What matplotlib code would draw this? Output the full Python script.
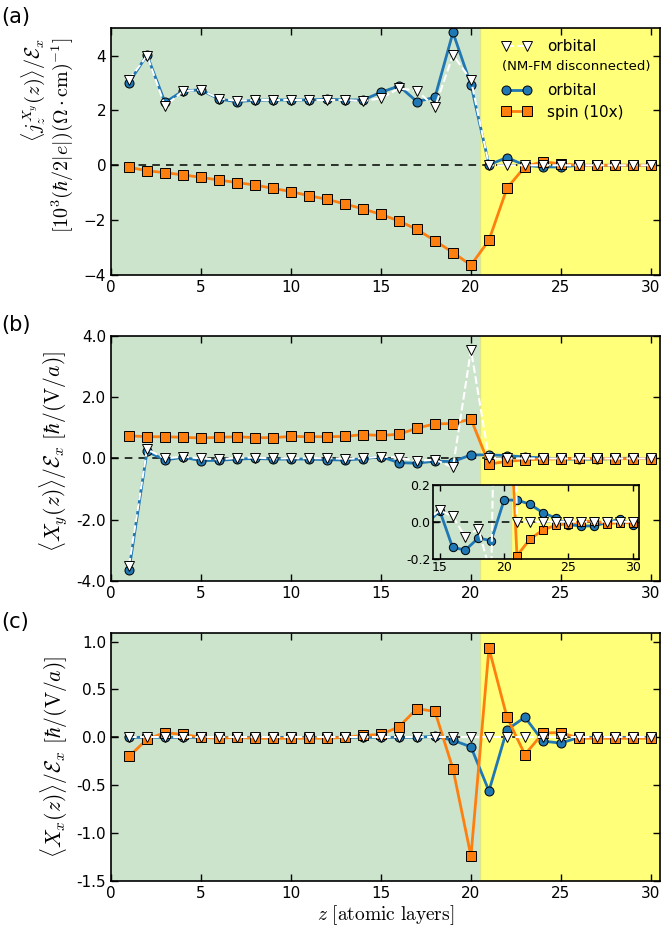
import numpy as np
import matplotlib.pyplot as plt

plt.rcParams['mathtext.fontset'] = 'cm'
plt.rcParams['font.family'] = 'DejaVu Sans'

z = np.arange(1, 31)

# panel (a): orbital current, disconnected orbital, spin (10x)
a_orb = [3.01, 4.02, 2.29, 2.71, 2.75, 2.41, 2.32, 2.37, 2.38, 2.38,
         2.38, 2.41, 2.38, 2.38, 2.66, 2.89, 2.32, 2.48, 4.84, 2.93,
         0.02, 0.28, 0.0, -0.06, -0.06, 0.0, 0.0, 0.0, 0.0, 0.0]
a_nc = [3.11, 4.0, 2.16, 2.7, 2.75, 2.43, 2.35, 2.38, 2.38, 2.38,
        2.38, 2.38, 2.38, 2.34, 2.44, 2.80, 2.72, 2.12, 4.02, 3.11,
        0.0, 0.0, 0.0, 0.0, 0.0, 0.0, 0.0, 0.0, 0.0, 0.0]
a_spin = [-0.07, -0.2, -0.27, -0.35, -0.44, -0.54, -0.63, -0.72, -0.84, -0.96,
          -1.11, -1.24, -1.41, -1.59, -1.79, -2.03, -2.34, -2.75, -3.18, -3.64,
          -2.73, -0.84, -0.05, 0.13, 0.05, 0.0, 0.0, 0.0, 0.0, 0.0]

# panel (b)
b_orb = [-3.65, 0.23, -0.05, 0.04, -0.07, -0.06, -0.02, 0.0, -0.02, -0.02,
         -0.02, -0.04, -0.05, -0.01, 0.06, -0.139, -0.153, -0.088, -0.103, 0.117,
         0.117, 0.095, 0.049, 0.02, -0.016, -0.023, -0.023, -0.004, 0.013, -0.016]
b_nc = [-3.5, 0.30, 0.0, 0.06, 0.0, -0.03, 0.02, 0.03, 0.0, 0.01,
        0.01, 0.01, -0.01, 0.01, 0.061, 0.029, -0.083, -0.038, -0.29, 3.55,
        0.0, 0.0, 0.0, 0.0, 0.0, 0.0, 0.0, 0.0, 0.0, 0.0]
b_spin = [0.74, 0.71, 0.71, 0.69, 0.67, 0.69, 0.71, 0.68, 0.68, 0.72,
          0.71, 0.71, 0.72, 0.78, 0.75, 0.79, 0.99, 1.13, 1.14, 1.29,
          -0.184, -0.095, -0.045, -0.02, -0.01, 0.0, 0.005, -0.01, -0.005, -0.005]

# panel (c)
c_orb = [0.0, 0.0, 0.0, 0.0, 0.0, 0.0, 0.0, 0.0, 0.0, 0.0,
         0.0, 0.0, 0.0, 0.0, 0.0, 0.0, 0.0, 0.01, -0.03, -0.10,
         -0.56, 0.08, 0.21, -0.04, -0.06, 0.0, 0.0, 0.0, 0.0, 0.0]
c_nc = [0.0] * 30
c_spin = [-0.20, -0.02, 0.05, 0.03, 0.0, -0.01, 0.0, -0.01, -0.01, -0.01,
          -0.01, -0.01, 0.0, 0.02, 0.03, 0.11, 0.30, 0.27, -0.33, -1.24,
          0.93, 0.21, -0.18, 0.045, 0.05, -0.01, -0.01, -0.01, -0.01, -0.01]

green = '#cce4cc'
yellow = '#ffff7a'
blue = '#1f77b4'
orange = '#ff7f0e'


def draw(ax, orb, nc, spin, ms=6.5):
    ax.axvspan(0, 20.5, color=green, lw=0, zorder=0)
    ax.axvspan(20.5, 31, color=yellow, lw=0, zorder=0)
    ax.axvline(20.5, color='#dde68c', lw=1, zorder=0.5)
    ax.axhline(0, color='k', ls=(0, (5, 4)), lw=1.1, zorder=1)
    l1, = ax.plot(z, orb, '-o', color=blue, lw=2, ms=ms, mec='k', mew=0.7, zorder=2)
    l2, = ax.plot(z, spin, '-s', color=orange, lw=2, ms=ms, mec='k', mew=0.7, zorder=3)
    l3, = ax.plot(z, nc, '--v', color='w', lw=1.5, ms=ms + 1, mfc='w', mec='k', mew=0.7, zorder=4)
    for sp in ax.spines.values():
        sp.set_linewidth(1.2)
        sp.set_zorder(10)
    ax.tick_params(direction='in', top=True, right=True, length=5, width=1)
    return l1, l2, l3


fig = plt.figure(figsize=(6.63, 9.39), dpi=100)
L, W = 0.1674, 0.828
ax_a = fig.add_axes([L, 0.7071, W, 0.263])
ax_b = fig.add_axes([L, 0.3813, W, 0.2609])
ax_c = fig.add_axes([L, 0.0618, W, 0.2641])

la = draw(ax_a, a_orb, a_nc, a_spin)
draw(ax_b, b_orb, b_nc, b_spin)
draw(ax_c, c_orb, c_nc, c_spin)

for ax in (ax_a, ax_b, ax_c):
    ax.set_xlim(0, 30.5)
    ax.set_xticks([0, 5, 10, 15, 20, 25, 30])
    ax.tick_params(labelsize=11)

ax_a.set_ylim(-4, 5)
ax_a.set_yticks([-4, -2, 0, 2, 4])
ax_b.set_ylim(-4, 4)
ax_b.set_yticks([-4, -2, 0, 2, 4])
ax_b.set_yticklabels(['%.1f' % v for v in [-4, -2, 0, 2, 4]])
ax_c.set_ylim(-1.5, 1.09)
ax_c.set_yticks([-1.5, -1.0, -0.5, 0.0, 0.5, 1.0])
ax_c.set_yticklabels(['%.1f' % v for v in [-1.5, -1.0, -0.5, 0.0, 0.5, 1.0]])

# y labels placed as figure text (pixel positions)
H = 939.0
fs = 15.5
fig.text(33 / 663, 1 - 38 / H, '$\\langle j_z^{X_y}(z)\\rangle/\\mathcal{E}_x$',
         rotation=90, ha='center', va='top', fontsize=14.5)
fig.text(62 / 663, 1 - 38 / H, '$[10^3(\\hbar/2|e|)(\\Omega\\cdot\\mathrm{cm})^{-1}]$',
         rotation=90, ha='center', va='top', fontsize=14.5)
fig.text(54 / 663, 1 - 452 / H, '$\\langle X_y(z)\\rangle/\\mathcal{E}_x\\ [\\hbar/(\\mathrm{V}/a)]$',
         rotation=90, ha='center', va='center', fontsize=fs)
fig.text(54 / 663, 1 - 757 / H, '$\\langle X_x(z)\\rangle/\\mathcal{E}_x\\ [\\hbar/(\\mathrm{V}/a)]$',
         rotation=90, ha='center', va='center', fontsize=fs)
ax_c.set_xlabel('$z\\ [\\mathrm{atomic\\ layers}]$', fontsize=14, labelpad=2)

# legend (a)
blank, = ax_a.plot([], [], color='none')
ax_a.legend([la[2], blank, la[0], la[1]], ['orbital', ' ', 'orbital', 'spin (10x)'],
            loc='upper left', bbox_to_anchor=(0.711, 0.955), borderaxespad=0,
            borderpad=0, frameon=False, fontsize=11, numpoints=2,
            handlelength=2.0, handletextpad=1.0, labelspacing=0.45)
ax_a.text(0.848, 0.843, '(NM-FM disconnected)', transform=ax_a.transAxes,
          ha='center', va='center', fontsize=9.5, zorder=20)

# inset in (b)
ax_in = fig.add_axes([0.6535, 0.405, 0.3107, 0.0788])
draw(ax_in, b_orb, b_nc, b_spin, ms=6)
ax_in.set_xlim(14.5, 30.5)
ax_in.set_ylim(-0.2, 0.2)
ax_in.set_xticks([15, 20, 25, 30])
ax_in.set_yticks([-0.2, 0.0, 0.2])
ax_in.set_yticklabels(['%.1f' % v for v in [-0.2, 0.0, 0.2]])
ax_in.tick_params(labelsize=9, length=4, pad=2)

for lab, y in [('(a)', 0.982), ('(b)', 0.654), ('(c)', 0.338)]:
    fig.text(0.002, y, lab, fontsize=15, va='center', ha='left')

fig.savefig('out.png', dpi=100)
